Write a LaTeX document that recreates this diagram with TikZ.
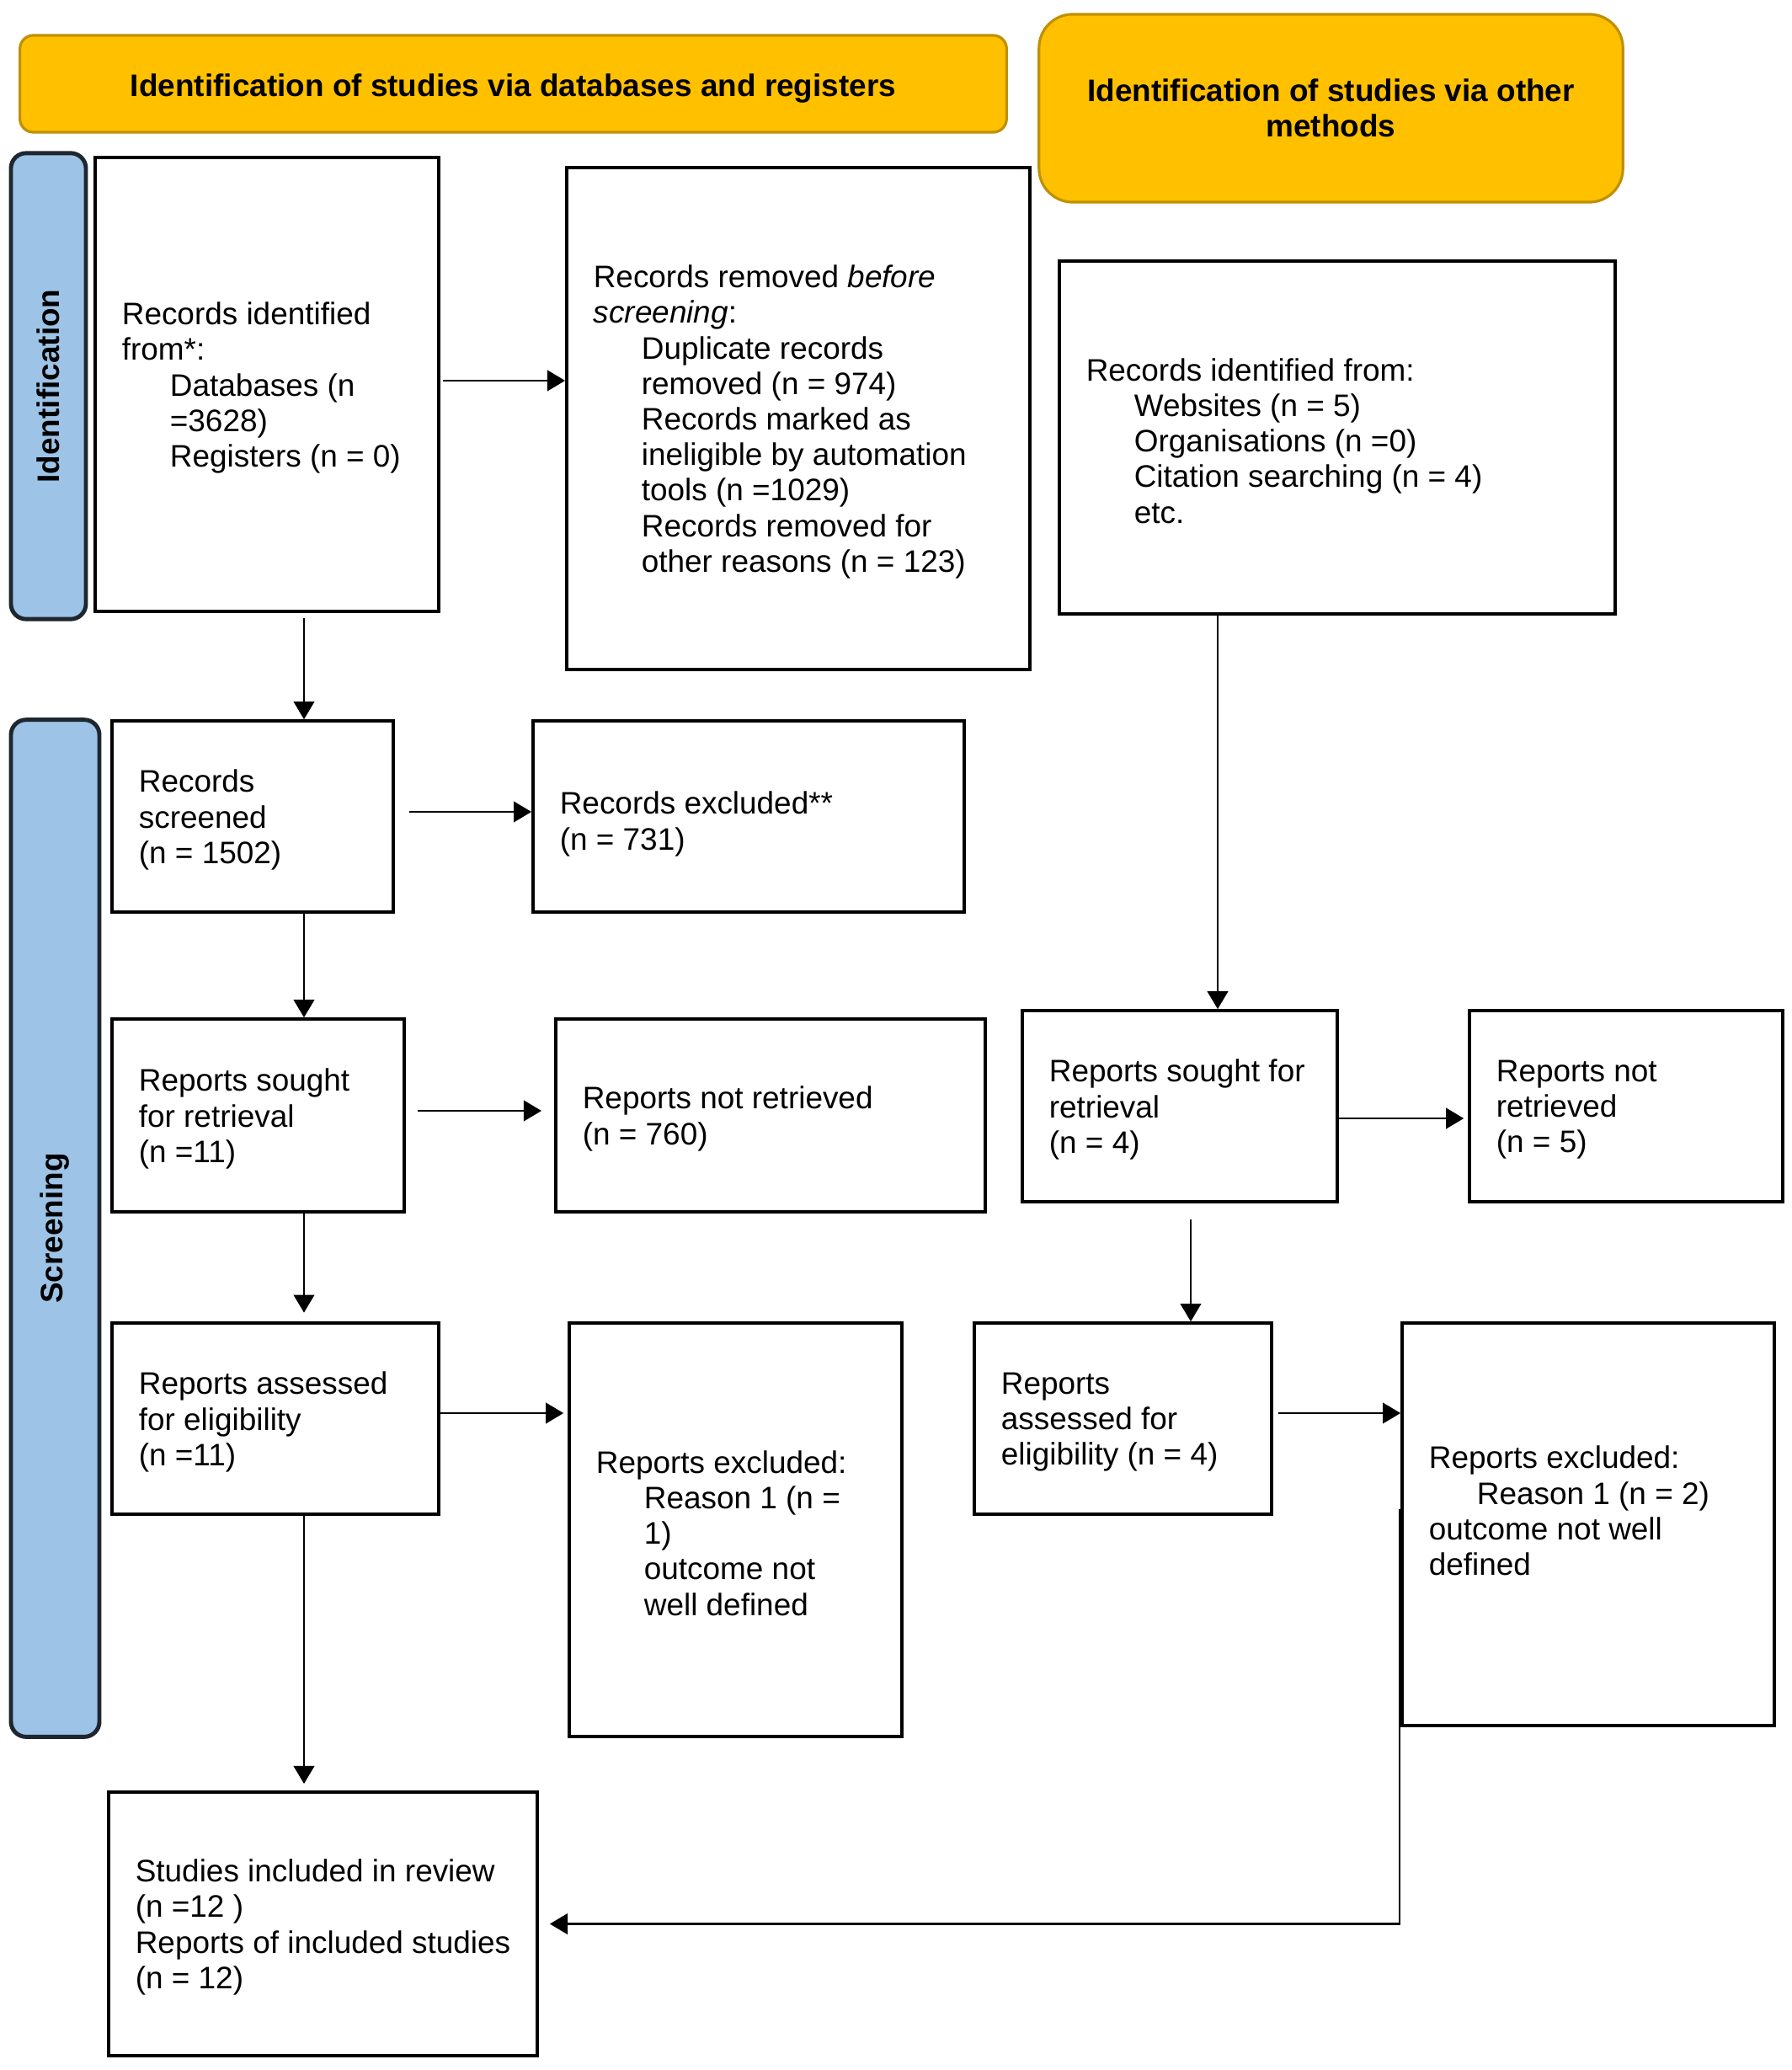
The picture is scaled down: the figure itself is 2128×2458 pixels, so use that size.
\documentclass[tikz,border=0pt]{standalone}
\usepackage{fontspec}
\setmainfont{Liberation Sans}
\usetikzlibrary{arrows.meta}
\definecolor{gold}{HTML}{FFC000}
\definecolor{golddark}{HTML}{BF9000}
\definecolor{sideblue}{HTML}{9DC3E6}
\definecolor{sideline}{HTML}{1E2630}
\newcommand{\ind}{\hspace*{0.57cm}}
\begin{document}
\begin{tikzpicture}[x=0.01cm,y=-0.01cm,
 box/.style={draw=black, line width=1pt, fill=white, inner sep=0pt, rectangle},
 txt/.style={anchor=west, inner sep=0pt, align=left, yshift=-0.04cm, font=\fontsize{10.5}{12}\selectfont},
 hdr/.style={draw=golddark, line width=0.9pt, fill=gold, inner sep=0pt, align=center, font=\bfseries\fontsize{10.5}{12}\selectfont},
 hdrtxt/.style={inner sep=0pt, align=center, font=\bfseries\fontsize{10.5}{12}\selectfont},
 side/.style={draw=sideline, line width=1.4pt, fill=sideblue, rounded corners=0.18cm, inner sep=0pt},
 sidetxt/.style={rotate=90, inner sep=0pt, font=\bfseries\fontsize{10.5}{12}\selectfont},
 arr/.style={-{Triangle[length=6pt,width=7pt]}, line width=0.6pt}
]
\path[use as bounding box, fill=white] (0,0) rectangle (2128,2458);

% headers
\node[hdr, rounded corners=0.16cm, minimum width=11.71cm, minimum height=1.15cm] (H1) at (609.5,99.5) {};
\node[hdrtxt] (H1t) at ([yshift=-1.7pt]H1.center) {Identification of studies via databases and registers};
\node[hdr, rounded corners=0.40cm, minimum width=6.93cm, minimum height=2.23cm] (H2) at (1580.5,128.5) {Identification of studies via other\\methods};

% side bars
\node[side, minimum width=0.89cm, minimum height=5.53cm] (S1) at (57.5,458.5) {};
\node[sidetxt] (S1t) at (S1.center) {Identification};
\node[side, minimum width=1.05cm, minimum height=12.07cm] (S2) at (65.5,1458.5) {};
\node[sidetxt] (S2t) at (S2.center) {Screening};

% boxes
\node[box, minimum width=4.08cm, minimum height=5.39cm] (A) at (317,456.5) {};
\node[box, minimum width=5.50cm, minimum height=5.96cm] (B) at (948,497) {};
\node[box, minimum width=6.60cm, minimum height=4.19cm] (C) at (1588,519.5) {};
\node[box, minimum width=3.34cm, minimum height=2.27cm] (D) at (300,969.5) {};
\node[box, minimum width=5.12cm, minimum height=2.27cm] (E) at (889,969.5) {};
\node[box, minimum width=3.47cm, minimum height=2.29cm] (F) at (306.5,1324.5) {};
\node[box, minimum width=5.10cm, minimum height=2.29cm] (G) at (915,1324.5) {};
\node[box, minimum width=3.74cm, minimum height=2.27cm] (H) at (1401,1313.5) {};
\node[box, minimum width=3.72cm, minimum height=2.27cm] (I) at (1931,1313.5) {};
\node[box, minimum width=3.88cm, minimum height=2.27cm] (J) at (327,1684.5) {};
\node[box, minimum width=3.95cm, minimum height=4.91cm] (K) at (873.5,1816.5) {};
\node[box, minimum width=3.53cm, minimum height=2.27cm] (L) at (1333.5,1684.5) {};
\node[box, minimum width=4.42cm, minimum height=4.78cm] (M) at (1886,1810) {};
\node[box, minimum width=5.09cm, minimum height=3.13cm] (N) at (383.5,2284.5) {};

% texts
\node[txt] (At) at ([xshift=0.33cm]A.west) {Records identified\\from*:\\\ind Databases (n\\\ind =3628)\\\ind Registers (n = 0)};
\node[txt] (Bt) at ([xshift=0.33cm]B.west) {Records removed \textit{before}\\\textit{screening}:\\\ind Duplicate records\\\ind removed (n = 974)\\\ind Records marked as\\\ind ineligible by automation\\\ind tools (n =1029)\\\ind Records removed for\\\ind other reasons (n = 123)};
\node[txt] (Ct) at ([xshift=0.33cm]C.west) {Records identified from:\\\ind Websites (n = 5)\\\ind Organisations (n =0)\\\ind Citation searching (n = 4)\\\ind etc.};
\node[txt] (Dt) at ([xshift=0.33cm]D.west) {Records\\screened\\(n = 1502)};
\node[txt] (Et) at ([xshift=0.33cm,yshift=-0.05cm]E.west) {Records excluded**\\(n = 731)};
\node[txt] (Ft) at ([xshift=0.33cm]F.west) {Reports sought\\for retrieval\\(n =11)};
\node[txt] (Gt) at ([xshift=0.33cm]G.west) {Reports not retrieved\\(n = 760)};
\node[txt] (Ht) at ([xshift=0.33cm]H.west) {Reports sought for\\retrieval\\(n = 4)};
\node[txt] (It) at ([xshift=0.33cm]I.west) {Reports not\\retrieved\\(n = 5)};
\node[txt] (Jt) at ([xshift=0.33cm]J.west) {Reports assessed\\for eligibility\\(n =11)};
\node[txt] (Kt) at ([xshift=0.33cm]K.west) {Reports excluded:\\\ind Reason 1 (n =\\\ind 1)\\\ind outcome not\\\ind well defined};
\node[txt] (Lt) at ([xshift=0.33cm]L.west) {Reports\\assessed for\\eligibility (n = 4)};
\node[txt] (Mt) at ([xshift=0.33cm,yshift=0.2cm]M.west) {Reports excluded:\\\ind Reason 1 (n = 2)\\outcome not well\\defined};
\node[txt] (Nt) at ([xshift=0.33cm]N.west) {Studies included in review\\(n =12 )\\Reports of included studies\\(n = 12)};

% helper coordinates
\coordinate (c361) at (361,0);
\coordinate (c1446) at (1446,0);
\coordinate (c1414) at (1414,0);
\coordinate (r452) at (0,452);
\coordinate (r964) at (0,964);
\coordinate (r1319) at (0,1319);
\coordinate (r1328) at (0,1328);
\coordinate (r1678) at (0,1678);
\coordinate (mstart) at (1662,1792);

% vertical connectors
\draw[arr, shorten <=1.7pt] (A.south -| c361) -- (D.north -| c361);
\draw[arr] (D.south -| c361) -- (F.north -| c361);
\draw[arr, shorten >=3pt] (F.south -| c361) -- (J.north -| c361);
\draw[arr, shorten >=2.3pt] (J.south -| c361) -- (N.north -| c361);
\draw[arr] (C.south -| c1446) -- (H.north -| c1446);
\draw[arr, shorten <=5.4pt] (H.south -| c1414) -- (L.north -| c1414);

% horizontal connectors
\draw[arr, shorten <=1pt] (A.east |- r452) -- (B.west |- r452);
\draw[arr, shorten <=4.8pt] (D.east |- r964) -- (E.west |- r964);
\draw[arr, shorten <=4pt, shorten >=4.3pt] (F.east |- r1319) -- (G.west |- r1319);
\draw[arr, shorten >=1.4pt] (H.east |- r1328) -- (I.west |- r1328);
\draw[arr, shorten >=1.4pt] (J.east |- r1678) -- (K.west |- r1678);
\draw[arr, shorten <=1.7pt] (L.east |- r1678) -- (M.west |- r1678);
\draw[arr, shorten >=3.7pt] (mstart) |- (N.east);
\end{tikzpicture}
\end{document}
